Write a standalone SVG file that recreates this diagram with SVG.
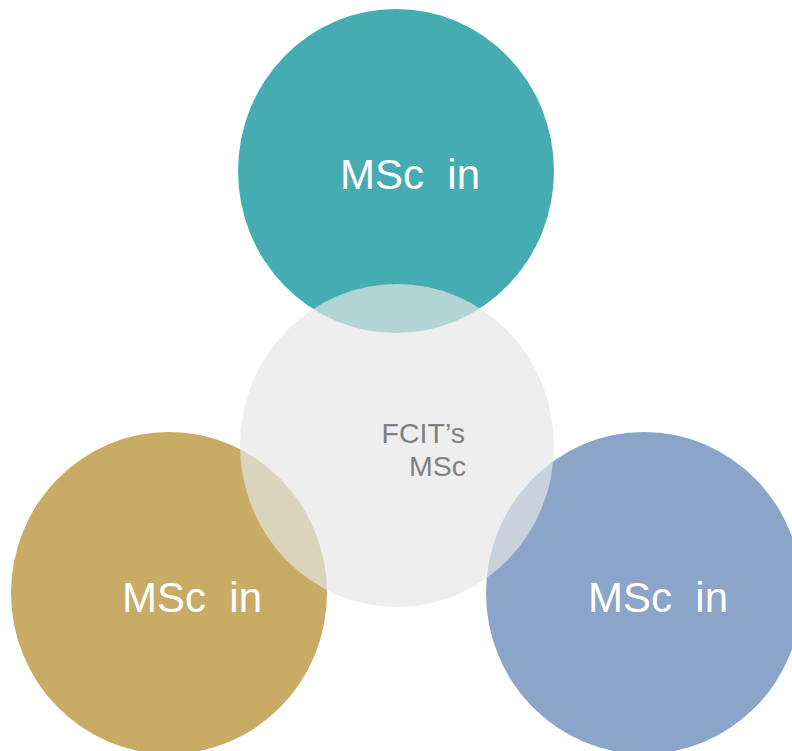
<svg xmlns="http://www.w3.org/2000/svg" width="792" height="751" viewBox="0 0 792 751">
<style>
.lbl{font-family:"Liberation Sans",Arial,sans-serif;font-size:42px;fill:#ffffff;white-space:pre}
.ctr{font-family:"Liberation Sans",Arial,sans-serif;font-size:28.5px;fill:#808080;text-anchor:end}
</style>
<rect width="792" height="751" fill="#ffffff"/>
<g id="top">
<ellipse cx="396" cy="171" rx="158" ry="162" fill="#45adb2"/>
<text class="lbl" x="340" y="189" xml:space="preserve">MSc  in</text>
</g>
<g id="left">
<ellipse cx="169" cy="593" rx="158" ry="161" fill="#c8ac66"/>
<text class="lbl" x="122" y="612" xml:space="preserve">MSc  in</text>
</g>
<g id="right">
<ellipse cx="644" cy="593" rx="158" ry="161" fill="#8aa5c8"/>
<text class="lbl" x="588" y="612" xml:space="preserve">MSc  in</text>
</g>
<g id="center">
<ellipse cx="397" cy="445.5" rx="157" ry="161.5" fill="#e6e6e6" fill-opacity="0.68"/>
<text class="ctr" x="465" y="443">FCIT’s</text>
<text class="ctr" x="466" y="476">MSc</text>
</g>
<g id="connectors"/>
</svg>
